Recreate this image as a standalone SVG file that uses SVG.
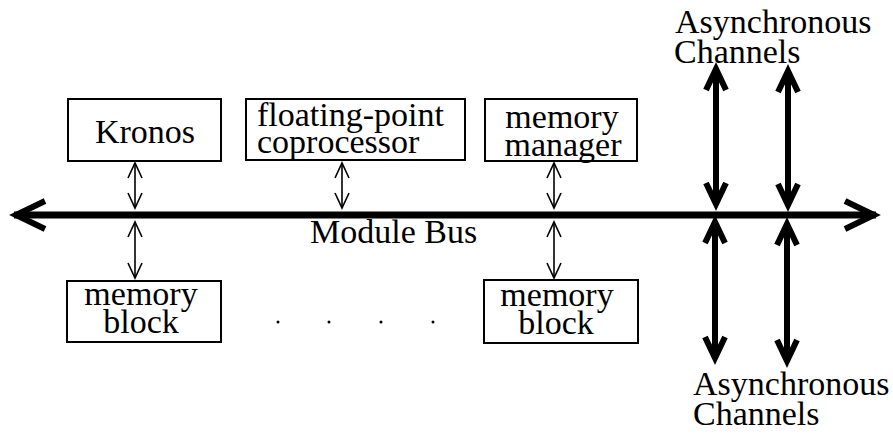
<svg xmlns="http://www.w3.org/2000/svg" width="893" height="437" viewBox="0 0 893 437">
<defs>
<style>
.box{fill:#fff;stroke:#000;stroke-width:2}
.t{font-family:"Liberation Serif","Times New Roman",serif;font-size:34px;fill:#000}
.c{text-anchor:middle}
.thin{stroke:#000;stroke-width:1.6;fill:none}
.thick{stroke:#000;stroke-width:6;fill:none}
.bus{stroke:#000;stroke-width:7;fill:none}
</style>
<marker id="ah" markerUnits="userSpaceOnUse" markerWidth="40" markerHeight="40" refX="0" refY="0" orient="auto-start-reverse" overflow="visible" viewBox="-20 -20 40 40">
<path d="M-15,-7 L0,0 L-15,7" fill="none" stroke="#000" stroke-width="1.6" stroke-linejoin="miter"/>
</marker>
<marker id="ahT" markerUnits="userSpaceOnUse" markerWidth="60" markerHeight="60" refX="0" refY="0" orient="auto-start-reverse" overflow="visible" viewBox="-30 -30 60 60">
<path d="M-22,-10 L-1,0 L-22,10" fill="none" stroke="#000" stroke-width="6" stroke-linejoin="miter"/>
</marker>
<marker id="ahB" markerUnits="userSpaceOnUse" markerWidth="80" markerHeight="80" refX="0" refY="0" orient="auto-start-reverse" overflow="visible" viewBox="-40 -40 80 80">
<path d="M-31,-14 L-2,0 L-31,14" fill="none" stroke="#000" stroke-width="6" stroke-linejoin="miter"/>
</marker>
</defs>

<g id="connectors">
<line class="bus" x1="14" y1="215" x2="876" y2="215" marker-start="url(#ahB)" marker-end="url(#ahB)"/>
<line class="thin" x1="135" y1="163" x2="135" y2="208" marker-start="url(#ah)" marker-end="url(#ah)"/>
<line class="thin" x1="342" y1="163" x2="342" y2="208" marker-start="url(#ah)" marker-end="url(#ah)"/>
<line class="thin" x1="554" y1="163" x2="554" y2="208" marker-start="url(#ah)" marker-end="url(#ah)"/>
<line class="thin" x1="135" y1="222" x2="135" y2="278" marker-start="url(#ah)" marker-end="url(#ah)"/>
<line class="thin" x1="554" y1="222" x2="554" y2="278" marker-start="url(#ah)" marker-end="url(#ah)"/>
<line class="thick" x1="716" y1="68" x2="716" y2="205" marker-start="url(#ahT)" marker-end="url(#ahT)"/>
<line class="thick" x1="788" y1="70" x2="788" y2="206" marker-start="url(#ahT)" marker-end="url(#ahT)"/>
<line class="thick" x1="715" y1="221" x2="715" y2="359" marker-start="url(#ahT)" marker-end="url(#ahT)"/>
<line class="thick" x1="787" y1="223" x2="787" y2="362" marker-start="url(#ahT)" marker-end="url(#ahT)"/>
</g>

<g id="kronos">
<rect class="box" x="68" y="99" width="153" height="62"/>
<text class="t c" x="145" y="143">Kronos</text>
</g>
<g id="fpu">
<rect class="box" x="246" y="99" width="219" height="61"/>
<text class="t"><tspan x="257" y="126">floating-point</tspan><tspan x="257" y="153">coprocessor</tspan></text>
</g>
<g id="mmu">
<rect class="box" x="485" y="99" width="152" height="62"/>
<text class="t c"><tspan x="562" y="128">memory</tspan><tspan x="563" y="156">manager</tspan></text>
</g>
<g id="memblock1">
<rect class="box" x="67" y="281" width="154" height="61"/>
<text class="t c"><tspan x="141" y="305">memory</tspan><tspan x="141" y="333">block</tspan></text>
</g>
<g id="memblock2">
<rect class="box" x="484" y="280" width="154" height="63"/>
<text class="t c"><tspan x="557" y="306">memory</tspan><tspan x="556" y="334">block</tspan></text>
</g>
<g id="dots">
<circle cx="278" cy="322" r="1.5"/>
<circle cx="329" cy="322" r="1.5"/>
<circle cx="381" cy="322" r="1.5"/>
<circle cx="433" cy="322" r="1.5"/>
</g>
<g id="bus-label">
<text class="t" x="310" y="243">Module Bus</text>
</g>
<g id="async-top">
<text class="t"><tspan x="675" y="33">Asynchronous</tspan><tspan x="674" y="63">Channels</tspan></text>
</g>
<g id="async-bottom">
<text class="t"><tspan x="693" y="395">Asynchronous</tspan><tspan x="693" y="425">Channels</tspan></text>
</g>
</svg>
